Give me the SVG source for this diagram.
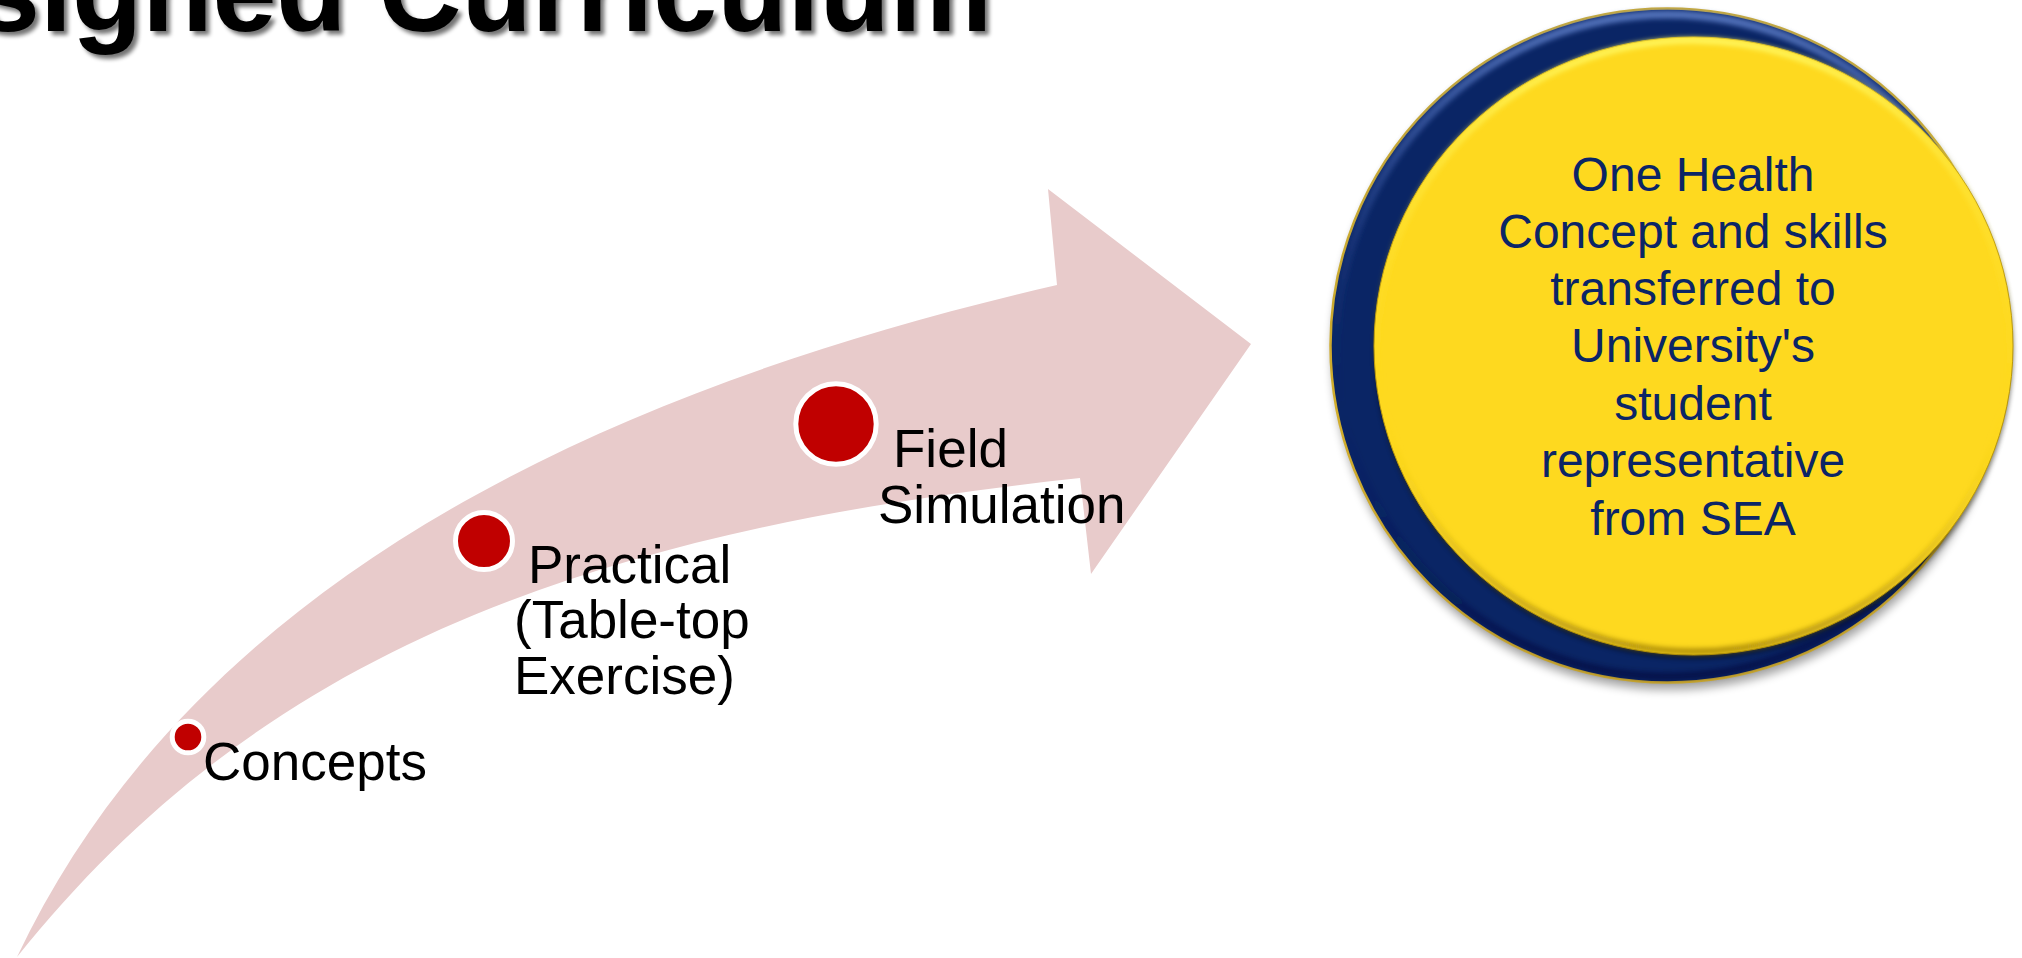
<svg xmlns="http://www.w3.org/2000/svg" width="2022" height="958" viewBox="0 0 2022 958">
  <defs>
    <filter id="titleShadow" x="-5%" y="-50%" width="110%" height="200%">
      <feGaussianBlur in="SourceAlpha" stdDeviation="2"/>
      <feOffset dx="4" dy="4" result="b"/>
      <feComponentTransfer><feFuncA type="linear" slope="0.55"/></feComponentTransfer>
      <feMerge><feMergeNode/><feMergeNode in="SourceGraphic"/></feMerge>
    </filter>
    <filter id="soft" x="-10%" y="-10%" width="120%" height="120%">
      <feGaussianBlur stdDeviation="5"/>
    </filter>
    <filter id="soft2" x="-10%" y="-10%" width="120%" height="120%">
      <feGaussianBlur stdDeviation="2.5"/>
    </filter>
    <linearGradient id="navyRim" x1="0" y1="0" x2="0" y2="1">
      <stop offset="0" stop-color="#5b7bc4" stop-opacity="0.9"/>
      <stop offset="0.35" stop-color="#3a5aa8" stop-opacity="0.25"/>
      <stop offset="0.6" stop-color="#0A2565" stop-opacity="0"/>
      <stop offset="1" stop-color="#000a30" stop-opacity="0.5"/>
    </linearGradient>
    <linearGradient id="yellowRim" x1="0" y1="0" x2="0" y2="1">
      <stop offset="0" stop-color="#FFF75E" stop-opacity="1"/>
      <stop offset="0.3" stop-color="#FFEA40" stop-opacity="0.4"/>
      <stop offset="0.6" stop-color="#FED91F" stop-opacity="0"/>
      <stop offset="1" stop-color="#9a7b08" stop-opacity="0.8"/>
    </linearGradient>
    <style>
      .lbl { font-family: "Liberation Sans", Arial, sans-serif; font-size: 53px; fill: #000000; }
      .ctext { font-family: "Liberation Sans", Arial, sans-serif; font-size: 48px; fill: #0B2566; text-anchor: middle; }
      .ring { fill: #C00000; stroke: #FFFFFF; stroke-width: 5; }
      .title { font-family: "Liberation Sans", Arial, sans-serif; font-weight: bold; font-size: 115px; fill: #000000; }
    </style>
  </defs>

  <rect width="2022" height="958" fill="#FFFFFF"/>

  <g id="title">
    <text class="title" x="-24" y="31" filter="url(#titleShadow)">signed Curriculum</text>
  </g>

  <g id="connectors">
    <path id="arrow" d="M17,957 C177,620 531,406 1057,285 L1048,189 L1251,344 L1091,574 L1080,478 C577,532 257,657 17,957 Z" fill="#E8CBCB"/>
  </g>

  <g id="node-concepts">
    <circle class="ring" cx="188" cy="737" r="15.8"/>
    <text class="lbl" x="203" y="780">Concepts</text>
  </g>

  <g id="node-practical">
    <circle class="ring" cx="484" cy="541" r="28.5"/>
    <text class="lbl" x="528" y="583">Practical</text>
    <text class="lbl" x="514" y="638">(Table-top</text>
    <text class="lbl" x="514" y="694">Exercise)</text>
  </g>

  <g id="node-field">
    <circle class="ring" cx="836" cy="424" r="40.2"/>
    <text class="lbl" x="893" y="467">Field</text>
    <text class="lbl" x="878" y="523">Simulation</text>
  </g>

  <g id="node-onehealth">
    <circle cx="1669" cy="353" r="337" fill="#000000" opacity="0.35" filter="url(#soft)"/>
    <circle cx="1667.5" cy="345.5" r="337" fill="#0A2565" stroke="#D2AE2C" stroke-width="2.5"/>
    <circle cx="1667.5" cy="345.5" r="331" fill="none" stroke="url(#navyRim)" stroke-width="8" filter="url(#soft2)"/>
    <ellipse cx="1694" cy="350" rx="319.5" ry="309" fill="#000000" opacity="0.45" filter="url(#soft2)"/>
    <ellipse cx="1693.5" cy="346" rx="319.5" ry="309" fill="#FED91F" stroke="#B8960C" stroke-width="1"/>
    <ellipse cx="1693.5" cy="346" rx="316" ry="305.5" fill="none" stroke="url(#yellowRim)" stroke-width="6" filter="url(#soft2)"/>
    <text class="ctext" x="1693" y="191">One Health</text>
    <text class="ctext" x="1693" y="248">Concept and skills</text>
    <text class="ctext" x="1693" y="305">transferred to</text>
    <text class="ctext" x="1693" y="362">University's</text>
    <text class="ctext" x="1693" y="420">student</text>
    <text class="ctext" x="1693" y="477">representative</text>
    <text class="ctext" x="1693" y="535">from SEA</text>
  </g>
</svg>
